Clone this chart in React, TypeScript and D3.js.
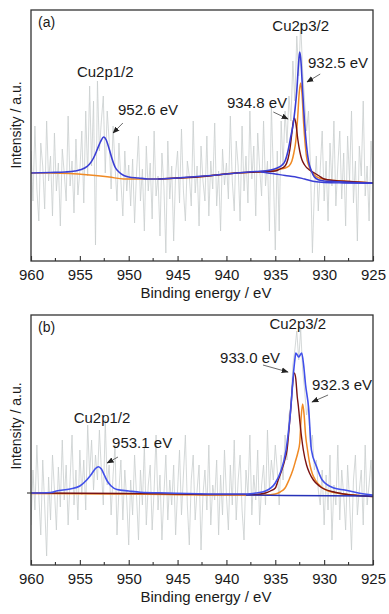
//@ts-nocheck
import React, { useRef, useEffect } from 'react'
import * as d3 from 'd3'

// raw spectra: one value every 0.2 eV from 960 eV down to 925 eV
const rawStart = 960
const rawStep = 0.2

const aRaw = [
  110, 60, 135, 72, 40, 118, 95, 52, 140, 80, 105, 45, 128, 70, 98, 35, 112, 88, 60, 145, 75, 100, 48, 122, 66, 90,
  130, 58, 150, 85, 175, 95, 160, 16, 180, 110, 140, 165, 88, 150, 120, 72, 135, 95, 60, 118, 80, 45, 110, 70, 96,
  55, 102, 38, 88, 125, 60, 92, 30, 115, 70, 98, 42, 130, 65, 85, 25, 108, 75, 8, 120, 62, 95, 20, 88, 110,
  58, 132, 70, 40, 100, 85, 55, 140, 68, 95, 35, 115, 80, 60, 125, 45, 100, 72, 138, 55, 90, 30, 112, 76, 98,
  62, 145, 80, 50, 120, 95, 40, 135, 70, 105, 58, 150, 82, 115, 45, 128, 92, 65, 140, 75, 100, 30, 155, 88, 11,
  110, 30, 140, 95, 150, 118, 165, 140, 200, 160, 225, 185, 238, 190, 160, 130, 150, 95, 8, 70, 105, 50, 92, 130, 60,
  100, 40, 118, 75, 140, 55, 95, 130, 62, 108, 35, 125, 80, 150, 58, 100, 20, 115, 85, 160, 65, 95, 40, 120, 80
]

const bRaw = [
  40, 95, 55, 120, 70, 30, 105, 60, 9, 88, 45, 110, 75, 35, 98, 58, 125, 65, 100, 40, 85, 130, 60, 95, 45, 115,
  70, 105, 55, 140, 90, 125, 75, 110, 85, 135, 95, 60, 145, 80, 100, 50, 90, 120, 30, 75, 105, 45, 95, 65, 20,
  85, 50, 110, 70, 25, 95, 60, 120, 40, 80, 100, 35, 75, 130, 55, 90, 25, 70, 110, 45, 85, 60, 100, 30, 75,
  115, 50, 90, 130, 60, 20, 85, 110, 45, 75, 100, 15, 70, 95, 55, 120, 40, 80, 65, 105, 30, 90, 50, 115, 70,
  35, 100, 60, 125, 45, 85, 110, 55, 25, 95, 70, 130, 50, 90, 65, 115, 40, 80, 100, 60, 135, 75, 105, 85, 120,
  95, 60, 110, 85, 130, 105, 150, 160, 200, 215, 234, 205, 236, 195, 175, 150, 160, 118, 130, 95, 105, 75, 60, 95, 40,
  90, 55, 110, 25, 80, 60, 120, 45, 95, 70, 35, 100, 65, 15, 85, 110, 50, 75, 95, 40, 120, 60, 80, 105, 55
]

// fitted curves [binding energy, intensity]
const aEnvelope = [
  [960, 88], [958, 88.5], [956.5, 89], [955.5, 90], [954.5, 93], [954, 97], [953.6, 103], [953.2, 112],
  [952.9, 119], [952.55, 124], [952.3, 121], [952, 112], [951.7, 102], [951.4, 94], [951, 89], [950.5, 85.5],
  [950, 84], [949, 83], [948, 82], [947, 82], [945, 83], [943, 84.5], [941, 86], [939, 88], [937, 89.5],
  [935.5, 91], [934.8, 93], [934.3, 96], [934, 100], [933.7, 110], [933.4, 125], [933.15, 138], [933, 150],
  [932.8, 170], [932.6, 200], [932.5, 209], [932.4, 203], [932.2, 170], [932, 138], [931.8, 115], [931.6, 100],
  [931.3, 90], [931, 84], [930.5, 81], [930, 80], [929, 79.5], [927, 78.5], [925, 78]
]
const aBackground = [
  [936.5, 89], [935, 87], [934, 85.5], [933, 84.3], [932, 82], [931, 79.5], [930, 78.5], [928, 78], [925, 77.7]
]
const aCu0 = [
  [960, 88], [958, 88], [956, 87.5], [954, 86], [952, 84], [950.5, 82], [949, 82], [947, 82], [945, 83],
  [943, 84], [941, 86], [939, 88], [937, 89], [935.5, 90], [934.5, 92], [934, 93], [933.6, 95], [933.3, 100],
  [933.1, 108], [932.9, 120], [932.7, 145], [932.55, 168], [932.4, 178], [932.25, 165], [932.1, 138],
  [931.95, 118], [931.8, 104], [931.6, 96], [931.3, 90], [931, 86], [930.5, 83], [929.5, 81], [928, 80],
  [926.5, 79], [925, 78]
]
const aCu2 = [
  [947, 82], [945, 83], [943, 84], [941, 86], [939, 88], [937, 89], [935, 90], [934.5, 92], [934, 95],
  [933.7, 102], [933.5, 112], [933.3, 128], [933.15, 140], [933.05, 143], [932.9, 138], [932.7, 122],
  [932.5, 110], [932.3, 102], [932, 96], [931.5, 91], [931, 88], [930.5, 85], [930, 82], [929, 80.5],
  [927.5, 79.5], [925, 78]
]

const bEnvelope = [
  [960, 72], [958, 72.5], [957.4, 74], [956, 76], [955, 79], [954.3, 85], [953.8, 91], [953.4, 96.5],
  [953.1, 98.3], [952.8, 96], [952.5, 90], [952.2, 84], [951.8, 79], [951.2, 75.5], [950, 74], [948.8, 72.7],
  [946, 72], [944, 71.5], [940, 71], [938, 71], [937, 72], [936, 74], [935, 82], [934.5, 92], [933.9, 115],
  [933.4, 158], [933.2, 185], [933, 205], [932.9, 212], [932.75, 210], [932.6, 208], [932.45, 210],
  [932.3, 212], [932.1, 200], [931.9, 180], [931.6, 158], [931.3, 115], [930.8, 99], [930.2, 85], [929, 77],
  [927.9, 75], [926.5, 72], [925, 70]
]
const bBackground = [[938, 70], [934, 69.5], [925, 69]]
const bCu0 = [
  [960, 71.5], [950, 71], [940, 70], [936, 70], [935, 71], [934.5, 73], [934, 77], [933.6, 85], [933.2, 95],
  [932.9, 105], [932.7, 112], [932.5, 122], [932.35, 148], [932.2, 161], [932.05, 150], [931.9, 130],
  [931.7, 115], [931.45, 100], [931.2, 91], [930.9, 85], [930.4, 79], [929.8, 75], [929, 72.5], [928, 71],
  [926.5, 69.5], [925, 68.5]
]
const bCu2 = [
  [960, 72], [950, 71.5], [945, 71], [940, 70.5], [937, 70.5], [936, 72], [935.5, 74], [935, 77], [934.7, 85],
  [934.3, 96], [934, 106], [933.8, 115], [933.6, 135], [933.4, 158], [933.25, 178], [933.05, 192],
  [932.9, 186], [932.75, 168], [932.64, 159], [932.45, 140], [932.3, 127], [932.13, 115], [931.8, 100],
  [931.5, 92], [931.1, 85], [930.5, 79], [930, 76], [929, 73], [928, 71], [926.5, 69.5], [925, 68.5]
]

const majorTicks = [960, 955, 950, 945, 940, 935, 930, 925]
const minorTicks = [957.5, 952.5, 947.5, 942.5, 937.5, 932.5, 927.5]

// annotations placed in data units
const aLabels = [
  { text: 'Cu2p3/2', e: 932.4, v: 230, anchor: 'middle' },
  { text: 'Cu2p1/2', e: 952.4, v: 184, anchor: 'middle' },
  { text: '952.6 eV', e: 951.1, v: 146, anchor: 'start' },
  { text: '932.5 eV', e: 931.65, v: 193, anchor: 'start' },
  { text: '934.8 eV', e: 939.94, v: 153, anchor: 'start' }
]
const aArrows = [
  [950.6, 138, 951.6, 128],
  [930.4, 187, 931.75, 179],
  [935.2, 149, 933.7, 142]
]
const bLabels = [
  { text: 'Cu2p3/2', e: 932.7, v: 236, anchor: 'middle' },
  { text: '933.0 eV', e: 940.65, v: 202, anchor: 'start' },
  { text: '932.3 eV', e: 931.24, v: 175, anchor: 'start' },
  { text: 'Cu2p1/2', e: 952.73, v: 142, anchor: 'middle' },
  { text: '953.1 eV', e: 951.7, v: 117, anchor: 'start' }
]
const bArrows = [
  [936.26, 200, 933.7, 193],
  [929.6, 170, 931.24, 163],
  [951.1, 108, 952.2, 102]
]

const FONT = "'Liberation Sans', Arial, sans-serif"

const App = () => {
  const node = useRef<SVGSVGElement | null>(null)

  useEffect(() => {
    const svg = d3.select(node.current)
    svg.selectAll('*').remove()

    const margin = { left: 31, right: 16 }
    const width = 389
    const x = d3.scaleLinear().domain([960, 925]).range([margin.left, width - margin.right])

    const defs = svg.append('defs')
    defs
      .append('marker')
      .attr('id', 'head')
      .attr('viewBox', '0 0 10 10')
      .attr('refX', 9)
      .attr('refY', 5)
      .attr('markerWidth', 7)
      .attr('markerHeight', 7)
      .attr('markerUnits', 'userSpaceOnUse')
      .attr('orient', 'auto')
      .append('path')
      .attr('d', 'M0,1 L10,5 L0,9 z')
      .attr('fill', '#222')

    const panels = [
      {
        id: 'a', top: 10, bottom: 261, raw: aRaw, env: aEnvelope, bg: aBackground, cu0: aCu0, cu2: aCu2,
        labels: aLabels, arrows: aArrows, tag: '(a)', ylabelY: 125, zero: null, envColor: '#3a3ed4', bgColor: '#3a3ed4'
      },
      {
        id: 'b', top: 315, bottom: 565, raw: bRaw, env: bEnvelope, bg: bBackground, cu0: bCu0, cu2: bCu2,
        labels: bLabels, arrows: bArrows, tag: '(b)', ylabelY: 426, zero: 72, envColor: '#4150ea', bgColor: '#2632b8'
      }
    ]

    panels.forEach((p) => {
      const y = d3.scaleLinear().domain([0, p.bottom - p.top]).range([p.bottom, p.top])
      const g = svg.append('g')

      defs
        .append('clipPath')
        .attr('id', 'clip-' + p.id)
        .append('rect')
        .attr('x', x(960))
        .attr('y', p.top)
        .attr('width', x(925) - x(960))
        .attr('height', p.bottom - p.top)

      const plot = g.append('g').attr('clip-path', `url(#clip-${p.id})`)

      const rawLine = d3
        .line()
        .x((d, i) => x(rawStart - i * rawStep))
        .y((d) => y(d))
      plot
        .append('path')
        .attr('d', rawLine(p.raw))
        .attr('fill', 'none')
        .attr('stroke', '#c9cece')
        .attr('stroke-width', 0.8)

      const fit = d3
        .line()
        .curve(d3.curveMonotoneX)
        .x((d) => x(d[0]))
        .y((d) => y(d[1]))

      plot.append('path').attr('d', fit(p.cu0)).attr('fill', 'none').attr('stroke', '#f08a24').attr('stroke-width', 1.5)
      plot.append('path').attr('d', fit(p.cu2)).attr('fill', 'none').attr('stroke', '#7a1212').attr('stroke-width', 1.4)
      plot.append('path').attr('d', fit(p.bg)).attr('fill', 'none').attr('stroke', p.bgColor).attr('stroke-width', 1.4)
      plot.append('path').attr('d', fit(p.env)).attr('fill', 'none').attr('stroke', p.envColor).attr('stroke-width', 1.6)

      // frame
      g.append('rect')
        .attr('x', x(960))
        .attr('y', p.top)
        .attr('width', x(925) - x(960))
        .attr('height', p.bottom - p.top)
        .attr('fill', 'none')
        .attr('stroke', '#333')
        .attr('stroke-width', 1.3)

      const axis = d3
        .axisBottom(x)
        .tickValues(majorTicks)
        .tickSizeInner(-5)
        .tickSizeOuter(0)
        .tickPadding(8)
        .tickFormat(d3.format('d'))
      const ax = g.append('g').attr('transform', `translate(0,${p.bottom})`).call(axis)
      ax.select('.domain').remove()
      ax.attr('font-size', 15).attr('font-family', FONT)
      ax.selectAll('line').attr('stroke', '#333').attr('stroke-width', 1.1)
      ax.selectAll('text').attr('fill', '#1a1a1a')

      g.selectAll('.minor')
        .data(minorTicks)
        .join('line')
        .attr('x1', (d) => x(d))
        .attr('x2', (d) => x(d))
        .attr('y1', p.bottom)
        .attr('y2', p.bottom - 3)
        .attr('stroke', '#333')
        .attr('stroke-width', 1.1)

      if (p.zero !== null) {
        g.append('line')
          .attr('x1', x(960) - 4)
          .attr('x2', x(960))
          .attr('y1', y(p.zero))
          .attr('y2', y(p.zero))
          .attr('stroke', '#333')
          .attr('stroke-width', 1.1)
      }

      g.append('text')
        .attr('x', x(960) + 7)
        .attr('y', p.top + 17)
        .attr('font-family', FONT)
        .attr('font-size', 14)
        .attr('fill', '#1a1a1a')
        .text(p.tag)

      g.append('text')
        .attr('transform', `translate(21,${p.ylabelY}) rotate(-90)`)
        .attr('text-anchor', 'middle')
        .attr('font-family', FONT)
        .attr('font-size', 14)
        .attr('fill', '#1a1a1a')
        .text('Intensity / a.u.')

      g.append('text')
        .attr('x', (x(960) + x(925)) / 2 + 4)
        .attr('y', p.bottom + 37)
        .attr('text-anchor', 'middle')
        .attr('font-family', FONT)
        .attr('font-size', 15)
        .attr('fill', '#1a1a1a')
        .text('Binding energy / eV')

      g.selectAll('.arrow')
        .data(p.arrows)
        .join('line')
        .attr('x1', (d) => x(d[0]))
        .attr('y1', (d) => y(d[1]))
        .attr('x2', (d) => x(d[2]))
        .attr('y2', (d) => y(d[3]))
        .attr('stroke', '#6a6a6a')
        .attr('stroke-width', 1)
        .attr('marker-end', 'url(#head)')

      g.selectAll('.lbl')
        .data(p.labels)
        .join('text')
        .attr('x', (d) => x(d.e))
        .attr('y', (d) => y(d.v))
        .attr('text-anchor', (d) => d.anchor)
        .attr('font-family', FONT)
        .attr('font-size', 15)
        .attr('fill', '#1a1a1a')
        .text((d) => d.text)
    })
  }, [node])

  return (
    <svg
      ref={node}
      width={389}
      height={614}
      style={{ position: 'absolute', left: 0, top: 0, background: '#fff' }}
    ></svg>
  )
}

export default App
